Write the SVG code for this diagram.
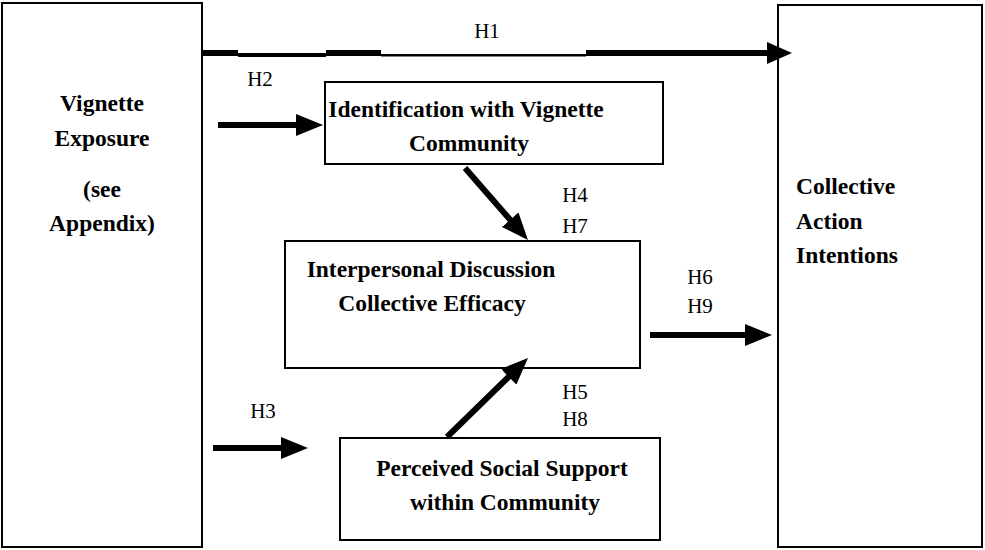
<svg xmlns="http://www.w3.org/2000/svg" width="985" height="550" viewBox="0 0 985 550">
<style>
.box{fill:#fff;stroke:#000;stroke-width:2}
.t{font-family:"Liberation Serif","Times New Roman",serif;font-weight:bold;font-size:23.5px;fill:#000}
.h{font-family:"Liberation Serif","Times New Roman",serif;font-size:21px;fill:#000}
.c{stroke:#000;stroke-width:6;fill:none}
</style>
<defs>
<marker id="ah" viewBox="0 0 27 22" refX="2" refY="11" markerWidth="27" markerHeight="22" orient="auto" markerUnits="userSpaceOnUse">
<path d="M0,0 L27,11 L0,22 z" fill="#000"/>
</marker>
</defs>
<rect width="985" height="550" fill="#fff"/>
<g id="vignette">
<rect class="box" x="2" y="3" width="200" height="544"/>
<text class="t" text-anchor="middle" x="102" y="111">Vignette</text>
<text class="t" text-anchor="middle" x="102" y="146">Exposure</text>
<text class="t" text-anchor="middle" x="102" y="197">(see</text>
<text class="t" text-anchor="middle" x="102" y="231">Appendix)</text>
</g>
<g id="collective-action">
<rect class="box" x="778" y="5" width="204" height="542"/>
<text class="t" x="796" y="194">Collective</text>
<text class="t" x="796" y="229">Action</text>
<text class="t" x="796" y="263">Intentions</text>
</g>
<g id="identification">
<rect class="box" x="325" y="82" width="338" height="82"/>
<text class="t" text-anchor="middle" x="466" y="117">Identification with Vignette</text>
<text class="t" text-anchor="middle" x="469" y="151">Community</text>
</g>
<g id="interpersonal">
<rect class="box" x="285" y="241" width="355" height="127"/>
<text class="t" text-anchor="middle" x="431" y="277">Interpersonal Discussion</text>
<text class="t" text-anchor="middle" x="432" y="311">Collective Efficacy</text>
</g>
<g id="social-support">
<rect class="box" x="340" y="438" width="320" height="102"/>
<text class="t" text-anchor="middle" x="502" y="476">Perceived Social Support</text>
<text class="t" text-anchor="middle" x="505" y="510">within Community</text>
</g>
<g id="connectors">
<rect x="203" y="50" width="35" height="6" fill="#000"/>
<rect x="238" y="53" width="88" height="4" fill="#000"/>
<rect x="326" y="50" width="55" height="6" fill="#000"/>
<rect x="381" y="54" width="205" height="2.5" fill="#000"/>
<rect x="586" y="50" width="186" height="6" fill="#000"/>
<path d="M767,42 L792,53 L767,64 z" fill="#000"/>
<line class="c" x1="218" y1="125" x2="298" y2="125" marker-end="url(#ah)"/>
<line class="c" x1="465" y1="168" x2="511.5" y2="221.2" marker-end="url(#ah)"/>
<line class="c" x1="650" y1="335" x2="747" y2="335" marker-end="url(#ah)"/>
<line class="c" x1="447" y1="437" x2="510.1" y2="375.4" marker-end="url(#ah)"/>
<line class="c" x1="213" y1="448" x2="283" y2="448" marker-end="url(#ah)"/>
</g>
<g id="labels">
<text class="h" text-anchor="middle" x="487" y="38">H1</text>
<text class="h" text-anchor="middle" x="260" y="86">H2</text>
<text class="h" text-anchor="middle" x="575" y="202">H4</text>
<text class="h" text-anchor="middle" x="575" y="233">H7</text>
<text class="h" text-anchor="middle" x="700" y="284">H6</text>
<text class="h" text-anchor="middle" x="700" y="313">H9</text>
<text class="h" text-anchor="middle" x="575" y="399">H5</text>
<text class="h" text-anchor="middle" x="575" y="426">H8</text>
<text class="h" text-anchor="middle" x="263" y="418">H3</text>
</g>
</svg>
